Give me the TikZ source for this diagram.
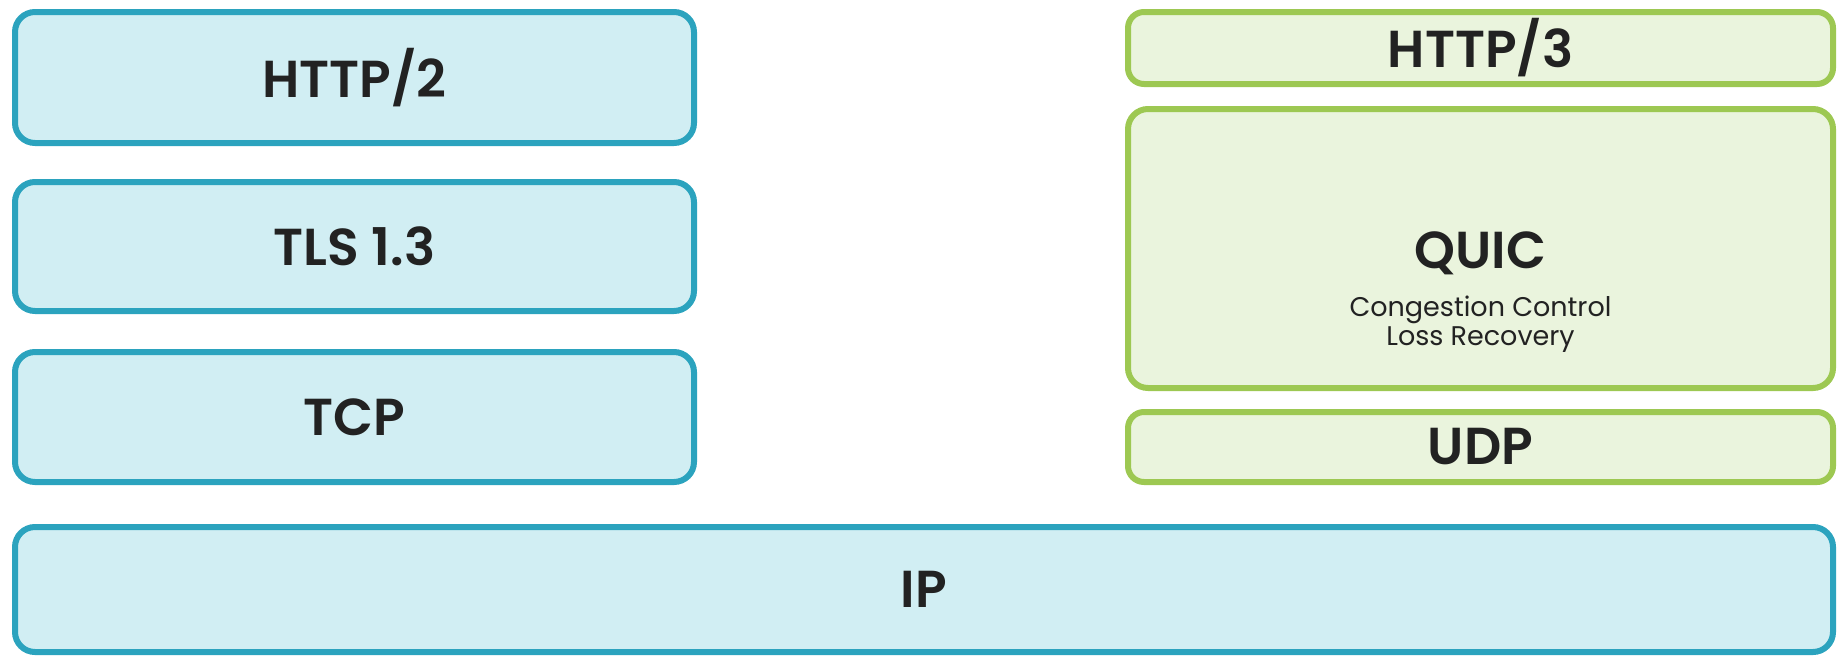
\documentclass[tikz,border=0pt]{standalone}
\usepackage{fontspec}
\setmainfont{Poppins}[BoldFont={Poppins SemiBold}]
\definecolor{bstroke}{HTML}{2BA3BE}
\definecolor{bfill}{HTML}{D1EEF3}
\definecolor{gstroke}{HTML}{9DC852}
\definecolor{gfill}{HTML}{EAF4DD}
\definecolor{txt}{HTML}{222222}
\tikzset{
  layer/.style={draw, line width=6pt, inner sep=0pt, text=txt,
    font=\fontsize{52}{58}\selectfont\bfseries},
  bluebox/.style={layer, draw=bstroke, fill=bfill, rounded corners=20pt},
  greenbox/.style={layer, draw=gstroke, fill=gfill, rounded corners=16pt},
  title/.style={text=txt, inner sep=0pt, font=\fontsize{52}{58}\selectfont\bfseries},
  sub/.style={text=txt, inner sep=0pt, align=center, font=\fontsize{27}{28.5}\selectfont},
}
\begin{document}
\begin{tikzpicture}[x=1pt,y=-1pt]
\useasboundingbox (0,0) rectangle (1845,657);
\node[bluebox, minimum width=679pt, minimum height=131pt] (http2) at (354.5,77.5) {HTTP/2};
\node[bluebox, minimum width=679pt, minimum height=129pt] (tls) at (354.5,246.5) {TLS 1.3};
\node[bluebox, minimum width=679pt, minimum height=130pt] (tcp) at (354.5,417) {TCP};
\node[bluebox, minimum width=1818pt, minimum height=125pt] (ip) at (924,589.5) {IP};
\node[greenbox, minimum width=705pt, minimum height=72pt] (http3) at (1480.5,48) {HTTP/3};
\node[greenbox, rounded corners=20pt, minimum width=705pt, minimum height=279pt] (quic) at (1480.5,248.5) {};
\node[title] (quictitle) at (1480.5,253) {QUIC};
\node[sub] (quicsub) at (1480.5,324) {Congestion Control\\Loss Recovery};
\node[greenbox, minimum width=705pt, minimum height=70pt] (udp) at (1480.5,447) {UDP};
\end{tikzpicture}
\end{document}
